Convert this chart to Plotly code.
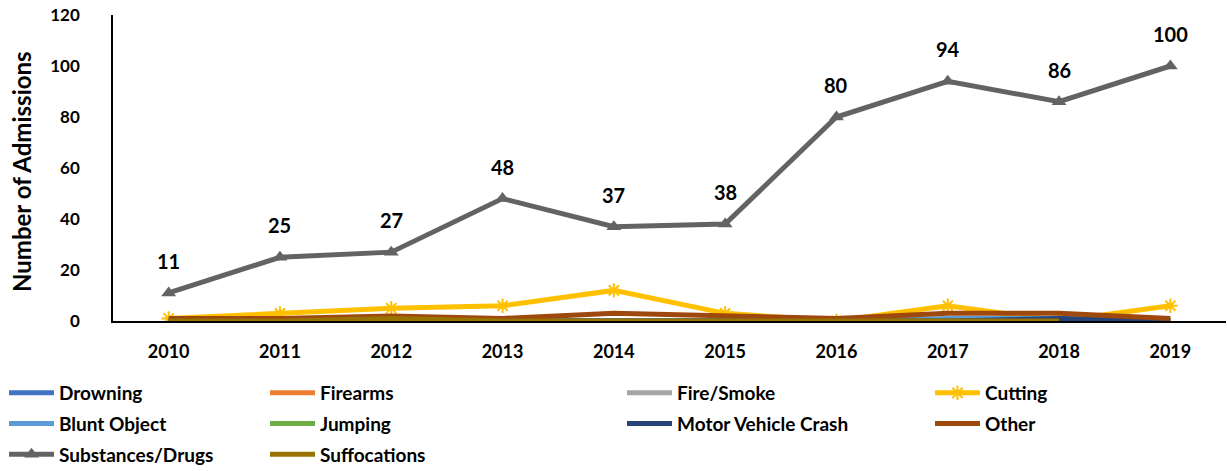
import plotly.graph_objects as go

years = ["2010", "2011", "2012", "2013", "2014", "2015", "2016", "2017", "2018", "2019"]

drowning = [0, 0, 0, 0, 0, 0, 0, 0, 0, 0]
firearms = [0, 0, 0, 0, 0, 0, 0, 0, 0, 0]
fire_smoke = [0, 0, 0, 0, 0, 0, 0, 0, 0, 0]
cutting = [1, 3, 5, 6, 12, 3, 0, 6, 0, 6]
blunt_object = [0, 0, 0, 0, 0, 0, 0, 1, 1, 0]
jumping = [0, 0, 0, 0, 0, 0, 0, 0, 0, 0]
motor_vehicle = [0, 0, 0, 0, 0, 0, 0, 0, 1, 0]
other = [1, 1, 2, 1, 3, 2, 1, 3, 3, 1]
substances = [11, 25, 27, 48, 37, 38, 80, 94, 86, 100]
suffocations = [0, 0, 1, 0, 0, 0, 0, 0, 0, None]

FONT = "Lato"
W, H = 1227, 471
ML, MR, MT, MB = 113, 1, 15, 150

series = [
    ("Drowning", drowning, "#4472C4", None, "legend"),
    ("Firearms", firearms, "#ED7D31", None, "legend2"),
    ("Fire/Smoke", fire_smoke, "#A5A5A5", None, "legend3"),
    ("Cutting", cutting, "#FFC000", "asterisk-open", "legend4"),
    ("Blunt Object", blunt_object, "#5B9BD5", None, "legend"),
    ("Jumping", jumping, "#70AD47", None, "legend2"),
    ("Motor Vehicle Crash", motor_vehicle, "#264478", None, "legend3"),
    ("Other", other, "#9E480E", None, "legend4"),
    ("Substances/Drugs", substances, "#636363", "triangle-up", "legend"),
    ("Suffocations", suffocations, "#997300", None, "legend2"),
]

fig = go.Figure()
for name, vals, color, sym, leg in series:
    if sym is None:
        mode = "lines"
        marker = None
    elif sym == "triangle-up":
        mode = "lines+markers"
        marker = dict(symbol=sym, size=13, color=color)
    else:
        mode = "lines+markers"
        marker = dict(symbol=sym, size=12, color=color, line=dict(color=color, width=2))
    fig.add_trace(go.Scatter(
        x=years, y=vals, name=name, mode=mode,
        line=dict(color=color, width=5),
        marker=marker, legend=leg, legendgroup=name,
        connectgaps=False,
    ))

for i, v in enumerate(substances):
    fig.add_annotation(x=i, y=v, xref="x", yref="y", text=str(v), showarrow=False, yshift=32,
                       font=dict(family=FONT, size=20, color="black", weight="bold"))

fig.add_annotation(x=0, y=0.487, xref="paper", yref="paper", xshift=-91, textangle=-90,
                   xanchor="center", yanchor="middle",
                   text="Number of Admissions", showarrow=False,
                   font=dict(family=FONT, size=24, color="black", weight="bold"))

leg_common = dict(
    orientation="v", yref="container", xanchor="left", yanchor="top",
    bgcolor="rgba(0,0,0,0)", itemwidth=45, tracegroupgap=3,
    font=dict(family=FONT, size=19, color="black", weight="bold"),
    itemclick=False, itemdoubleclick=False,
)
legend_x = [4, 265, 622, 930]
legend_names = ["legend", "legend2", "legend3", "legend4"]
top = 1 - 374 / H
plot_w = W - ML - MR
for name, lx in zip(legend_names, legend_x):
    fig.update_layout({name: dict(leg_common, xref="paper", x=(lx - ML) / plot_w, y=top)})

fig.update_layout(
    width=W, height=H,
    margin=dict(l=ML, r=MR, t=MT, b=MB, autoexpand=False),
    paper_bgcolor="white", plot_bgcolor="white",
    showlegend=True,
    font=dict(family=FONT, color="black"),
    xaxis=dict(
        type="category", range=[-0.5, 9.5], showgrid=False, zeroline=False,
        showline=True, linecolor="black", linewidth=1.5, ticks="",
        tickangle=0, automargin=False, ticklabeloverflow="allow",
        tickfont=dict(family=FONT, size=18, color="black", weight="bold"),
        ticklabelstandoff=14,
    ),
    yaxis=dict(
        range=[0, 120], dtick=20, showgrid=False, zeroline=False,
        showline=True, linecolor="black", linewidth=1.5, ticks="",
        automargin=False, ticklabeloverflow="allow",
        tickfont=dict(family=FONT, size=17, color="black", weight="bold"),
        ticklabelstandoff=28,
    ),
)

fig.write_html("out.html", config={"displayModeBar": False},
               post_script="document.body.style.margin='0px';")
